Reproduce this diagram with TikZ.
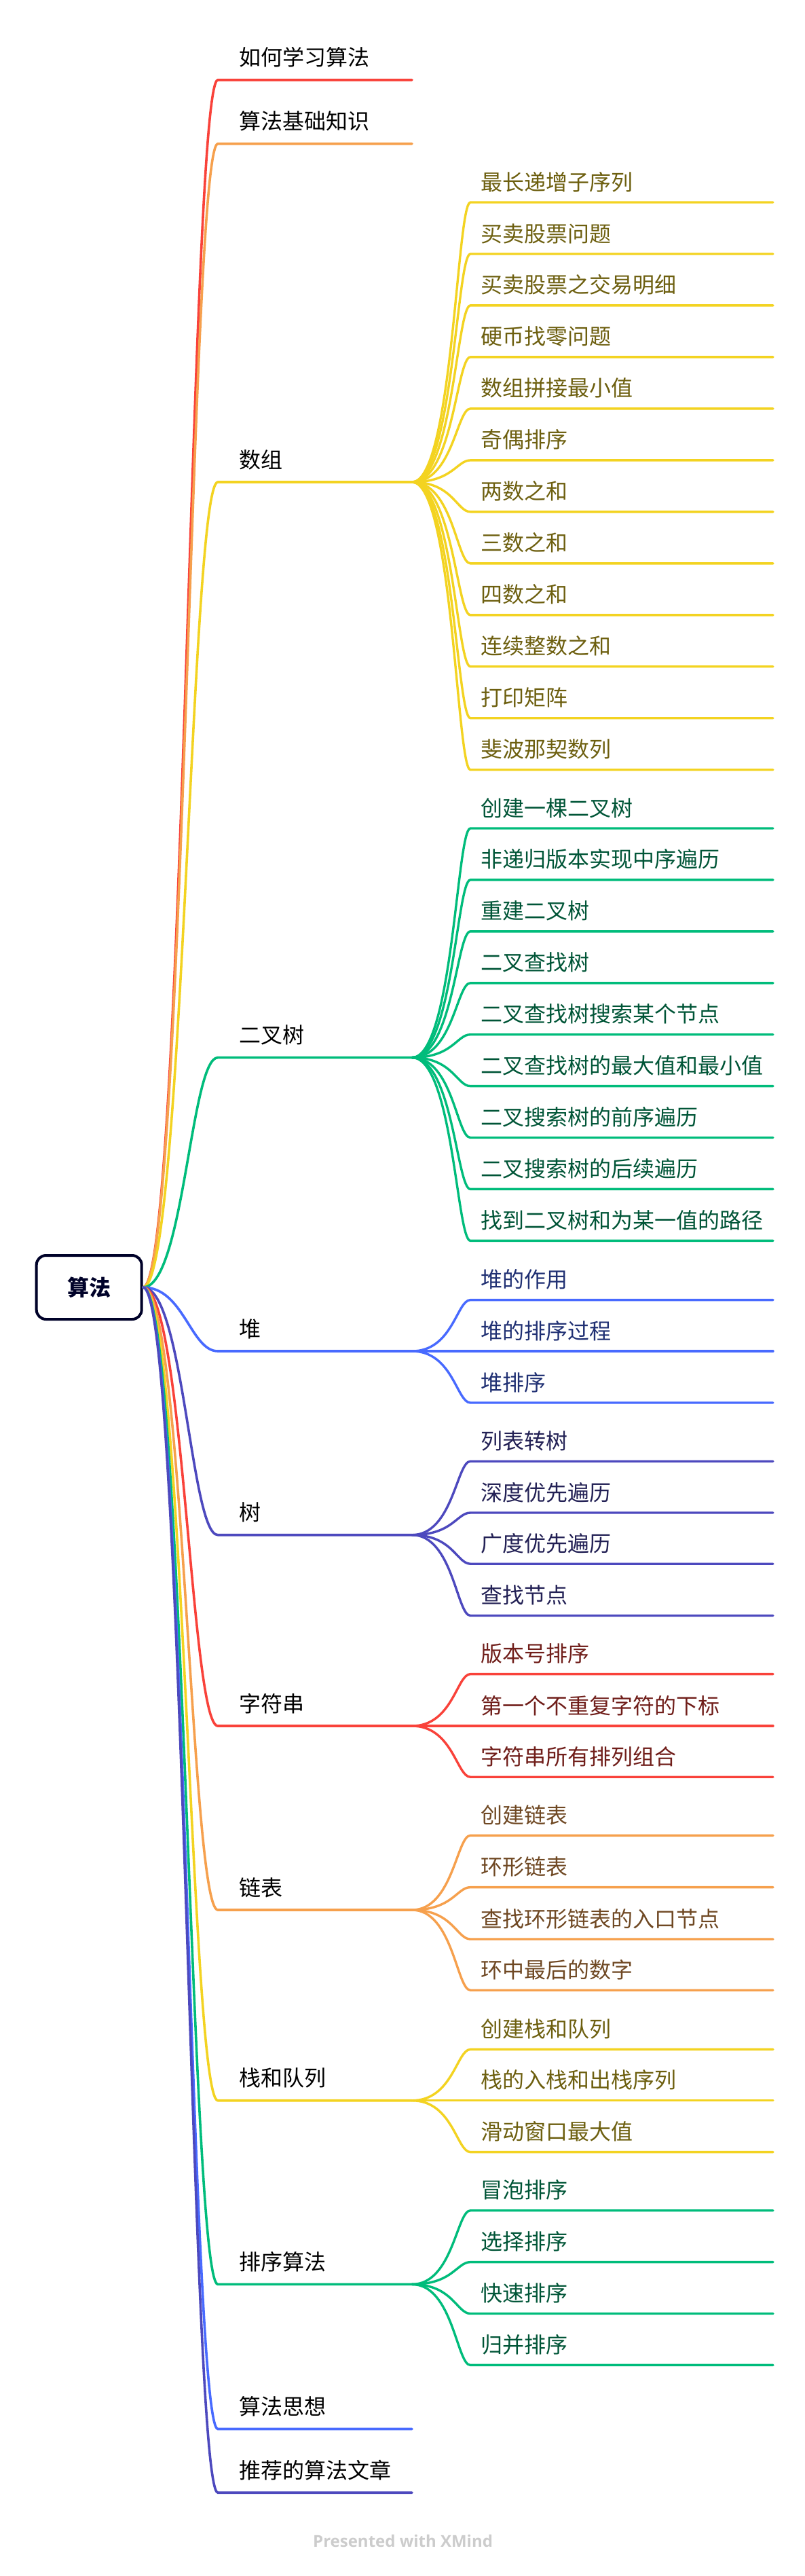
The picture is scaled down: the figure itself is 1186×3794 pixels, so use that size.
\documentclass[tikz,border=0pt]{standalone}
\usepackage{fontspec}
\newfontfamily\cjk{Noto Sans CJK SC}
\newfontfamily\footfont{Open Sans}
\definecolor{cR}{HTML}{F9423A}
\definecolor{cO}{HTML}{F6A04D}
\definecolor{cY}{HTML}{F3D321}
\definecolor{cG}{HTML}{00BC7B}
\definecolor{cB}{HTML}{486AFF}
\definecolor{cI}{HTML}{4D49BE}
\definecolor{rootc}{HTML}{000229}
\definecolor{footc}{HTML}{CCCCCC}
\tikzset{
  l1text/.style={anchor=base west, inner sep=0pt, font=\cjk\fontsize{32}{38}\selectfont, text=black},
  l2text/.style={anchor=base west, inner sep=0pt, font=\cjk\fontsize{32}{38}\selectfont},
  l1line/.style={line width=3.6pt, line cap=round},
  l2line/.style={line width=3.4pt, line cap=round},
  rootbox/.style={draw=rootc, line width=4pt, rounded corners=14pt, fill=white,
    minimum width=155pt, minimum height=94pt, inner sep=0pt,
    font=\cjk\bfseries\fontsize{32}{38}\selectfont, text=rootc},
}
\newcommand\Lone[4]{%
  \coordinate (#1-s) at (321,#2);
  \coordinate (#1-e) at (607,#2);
  \node[l1text] (#1) at (352,#2-21) {#3};
  \draw[l1line, draw=#4] (root.east) .. controls +(60,0) and +(-40,0) .. (#1-s) -- (#1-e);
}
\newcommand\Ltwo[5]{%
  \coordinate (#2-s) at (693,#3);
  \coordinate (#2-e) at (1139,#3);
  \node[l2text, text=#5!45!black] (#2) at (708,#3-18) {#4};
  \draw[l2line, draw=#5] (#1-e) .. controls +(60,0) and +(-20,0) .. (#2-s) -- (#2-e);
}
\begin{document}
\begin{tikzpicture}[x=1pt,y=-1pt]
\useasboundingbox[fill=white] (0,0) rectangle (1186,3794);
\node[rootbox] (root) at (131.2,1896) {算法};
% level 1
\Lone{a}{117.7}{如何学习算法}{cR}
\Lone{b}{211.7}{算法基础知识}{cO}
\Lone{c}{710}{数组}{cY}
\Lone{d}{1557.6}{二叉树}{cG}
\Lone{e}{1990}{堆}{cB}
\Lone{f}{2260.7}{树}{cI}
\Lone{g}{2542}{字符串}{cR}
\Lone{h}{2813}{链表}{cO}
\Lone{i}{3093.7}{栈和队列}{cY}
\Lone{j}{3364.4}{排序算法}{cG}
\Lone{k}{3577.5}{算法思想}{cB}
\Lone{l}{3671.2}{推荐的算法文章}{cI}
% 数组
\Ltwo{c}{c1}{298}{最长递增子序列}{cY}
\Ltwo{c}{c2}{374}{买卖股票问题}{cY}
\Ltwo{c}{c3}{449.9}{买卖股票之交易明细}{cY}
\Ltwo{c}{c4}{525.9}{硬币找零问题}{cY}
\Ltwo{c}{c5}{601.9}{数组拼接最小值}{cY}
\Ltwo{c}{c6}{677.9}{奇偶排序}{cY}
\Ltwo{c}{c7}{753.8}{两数之和}{cY}
\Ltwo{c}{c8}{829.8}{三数之和}{cY}
\Ltwo{c}{c9}{905.8}{四数之和}{cY}
\Ltwo{c}{c10}{981.7}{连续整数之和}{cY}
\Ltwo{c}{c11}{1057.7}{打印矩阵}{cY}
\Ltwo{c}{c12}{1133.7}{斐波那契数列}{cY}
% 二叉树
\Ltwo{d}{d1}{1220}{创建一棵二叉树}{cG}
\Ltwo{d}{d2}{1295.9}{非递归版本实现中序遍历}{cG}
\Ltwo{d}{d3}{1371.8}{重建二叉树}{cG}
\Ltwo{d}{d4}{1447.8}{二叉查找树}{cG}
\Ltwo{d}{d5}{1523.7}{二叉查找树搜索某个节点}{cG}
\Ltwo{d}{d6}{1599.6}{二叉查找树的最大值和最小值}{cG}
\Ltwo{d}{d7}{1675.5}{二叉搜索树的前序遍历}{cG}
\Ltwo{d}{d8}{1751.4}{二叉搜索树的后续遍历}{cG}
\Ltwo{d}{d9}{1827.4}{找到二叉树和为某一值的路径}{cG}
% 堆
\Ltwo{e}{e1}{1914.6}{堆的作用}{cB}
\Ltwo{e}{e2}{1990}{堆的排序过程}{cB}
\Ltwo{e}{e3}{2066}{堆排序}{cB}
% 树
\Ltwo{f}{f1}{2152.2}{列表转树}{cI}
\Ltwo{f}{f2}{2228}{深度优先遍历}{cI}
\Ltwo{f}{f3}{2303.2}{广度优先遍历}{cI}
\Ltwo{f}{f4}{2379.5}{查找节点}{cI}
% 字符串
\Ltwo{g}{g1}{2465.6}{版本号排序}{cR}
\Ltwo{g}{g2}{2542}{第一个不重复字符的下标}{cR}
\Ltwo{g}{g3}{2617.2}{字符串所有排列组合}{cR}
% 链表
\Ltwo{h}{h1}{2703.3}{创建链表}{cO}
\Ltwo{h}{h2}{2779.6}{环形链表}{cO}
\Ltwo{h}{h3}{2856}{查找环形链表的入口节点}{cO}
\Ltwo{h}{h4}{2931.2}{环中最后的数字}{cO}
% 栈和队列
\Ltwo{i}{i1}{3018.4}{创建栈和队列}{cY}
\Ltwo{i}{i2}{3093.7}{栈的入栈和出栈序列}{cY}
\Ltwo{i}{i3}{3169.6}{滑动窗口最大值}{cY}
% 排序算法
\Ltwo{j}{j1}{3255.7}{冒泡排序}{cG}
\Ltwo{j}{j2}{3331.6}{选择排序}{cG}
\Ltwo{j}{j3}{3407.5}{快速排序}{cG}
\Ltwo{j}{j4}{3483.4}{归并排序}{cG}
% footer
\node[anchor=base west, inner sep=0pt, font=\footfont\bfseries\fontsize{24}{29}\selectfont, text=footc] (foot) at (461,3751.7) {Presented with XMind};
\end{tikzpicture}
\end{document}
